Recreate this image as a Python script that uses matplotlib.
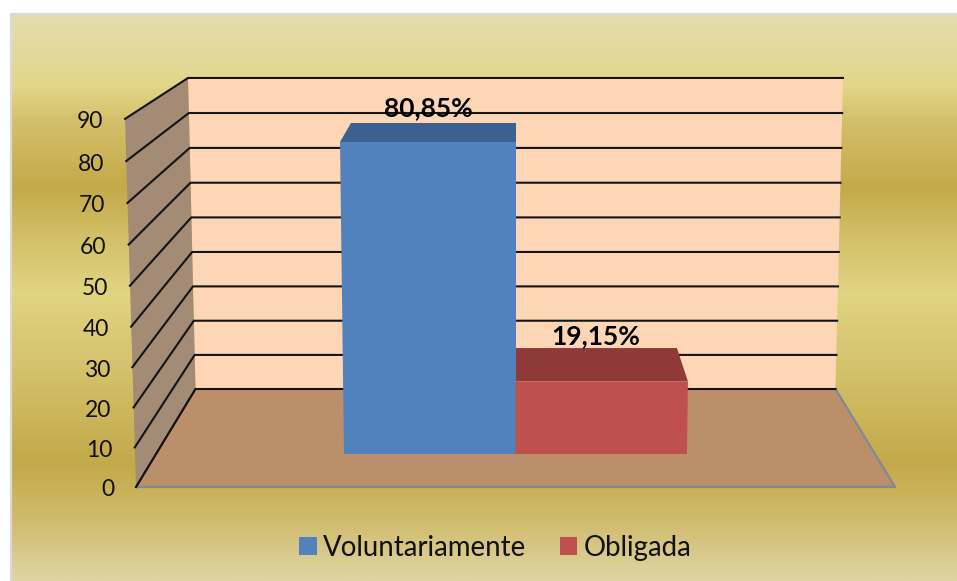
import numpy as np
import matplotlib
matplotlib.use("Agg")
import matplotlib.pyplot as plt
from matplotlib.colors import LinearSegmentedColormap
from matplotlib.patches import Patch, Polygon

categories = ["Voluntariamente", "Obligada"]
values = [80.85, 19.15]
value_labels = ["80,85%", "19,15%"]
ticks = [0, 10, 20, 30, 40, 50, 60, 70, 80, 90]
front_colors = ["#5182BE", "#C0504D"]
top_colors = ["#3D618E", "#8F3A38"]

plt.rcParams["font.family"] = ["Lato", "DejaVu Sans"]

W, H = 957, 581
fig = plt.figure(figsize=(W / 100, H / 100), dpi=100, facecolor="white")
ax = fig.add_axes([0, 0, 1, 1])
ax.set_xlim(0, W)
ax.set_ylim(H, 0)
ax.axis("off")

# gradient chart area
stops_y = np.array([14, 85, 120, 187, 240, 292, 380, 463, 520, 581])
stops_c = ["#E4DCB0", "#E2D68A", "#D4C06A", "#C4A949", "#D4C16A", "#E1D482",
           "#D3BF68", "#C3A949", "#D0BB6C", "#DFD5A2"]
pos = (stops_y - stops_y[0]) / (stops_y[-1] - stops_y[0])
cmap = LinearSegmentedColormap.from_list("bg", list(zip(pos, stops_c)))
ax.imshow(np.linspace(0, 1, 600).reshape(-1, 1), cmap=cmap, aspect="auto",
          extent=(11, W, H, 14), zorder=0)
ax.set_xlim(0, W)
ax.set_ylim(H, 0)
ax.plot([11, 11, W], [H, 14, 14], color="#DADADA", lw=1.6, zorder=1)


def project(u, v, d):
    """u: -1..1 across the floor, v: axis value, d: 0 front..1 back wall."""
    bow = (0.00163 - 0.00103 * d) * v * (90 - v)
    y = (487 - 98 * d) - v * (4.09 - 0.634 * d) + bow
    half = (379.5 - 59.5 * d) + v * (0.122 - 0.039 * d)
    return 515.5 + u * half, y


def face(points, color, z, **kw):
    ax.add_patch(Polygon([project(*p) for p in points], closed=True,
                         facecolor=color, edgecolor=kw.pop("edgecolor", "none"),
                         zorder=z, **kw))


vmax = ticks[-1]
# walls and floor
face([(-1, 0, 1), (1, 0, 1), (1, vmax, 1), (-1, vmax, 1)], "#FDD6B6", 2)
face([(-1, 0, 0), (-1, 0, 1), (-1, vmax, 1), (-1, vmax, 0)], "#A38B75", 2)
face([(-1, 0, 0), (1, 0, 0), (1, 0, 1), (-1, 0, 1)], "#BC8F6B", 2)

# floor edges
xy = np.array([project(-1, 0, 0), project(1, 0, 0), project(1, 0, 1)])
ax.plot(xy[:, 0], xy[:, 1], color="#7F8A94", lw=1.6, zorder=3)
xy = np.array([project(-1, 0, 0), project(-1, 0, 1)])
ax.plot(xy[:, 0], xy[:, 1], color="#1A1A1A", lw=1.3, zorder=3)

# gridlines and tick labels
for t in ticks:
    pts = np.array([project(-1, t, 0), project(-1, t, 1), project(1, t, 1)])
    ax.plot(pts[:, 0], pts[:, 1], color="#141414", lw=1.5, zorder=3,
            solid_joinstyle="miter")
    ax.text(pts[0, 0] - 22, pts[0, 1] + 1, str(t), ha="right", va="center_baseline",
            fontsize=16.5, color="#111111", zorder=6)

# bars
edges = [-0.477, 0.0, 0.477]
bar_front, bar_back = 0.337, 0.72
label_dx = [-5, -1]
label_dy = [-17, -14]
for i, (val, lab) in enumerate(zip(values, value_labels)):
    a, b = edges[i], edges[i + 1]
    face([(a, val, bar_front), (b, val, bar_front), (b, val, bar_back), (a, val, bar_back)],
         top_colors[i], 4)
    face([(a, 0, bar_front), (b, 0, bar_front), (b, val, bar_front), (a, val, bar_front)],
         front_colors[i], 5)
    x, y = project((a + b) / 2, val, bar_back)
    ax.annotate(lab, (x, y), xytext=(label_dx[i], -label_dy[i]), textcoords="offset pixels",
                ha="center", va="center_baseline", fontsize=19, fontweight="bold",
                color="#000000", zorder=7)

# legend
handles = [Patch(facecolor=c, label=n) for c, n in zip(front_colors, categories)]
ax.legend(handles=handles, loc="center", bbox_to_anchor=(495.5, 548),
          bbox_transform=ax.transData, ncol=2, frameon=False, fontsize=19.9,
          handlelength=0.62, handleheight=0.62, handletextpad=0.25, columnspacing=1.2,
          labelcolor="#111111")

fig.savefig("out.png", dpi=100, facecolor="white")
